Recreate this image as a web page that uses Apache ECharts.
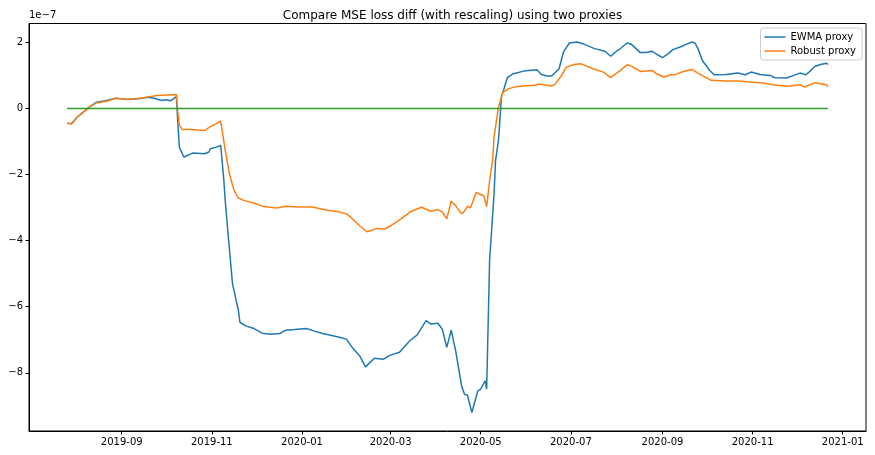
<!DOCTYPE html>
<html>
<head>
<meta charset="utf-8">
<script src="https://cdn.jsdelivr.net/npm/echarts@6/dist/echarts.min.js"></script>
<style>
html,body{margin:0;padding:0;background:#fff;}
#chart{width:875px;height:455px;}
</style>
</head>
<body>
<div id="chart"></div>
<script>
// values are in units of 1e-7
var ewmaDates = ['2019-07-26','2019-07-29','2019-08-02','2019-08-06','2019-08-11','2019-08-15','2019-08-21','2019-08-28',
    '2019-09-05','2019-09-12','2019-09-19','2019-09-23','2019-09-28','2019-10-01','2019-10-04','2019-10-08','2019-10-09',
    '2019-10-10','2019-10-13','2019-10-19','2019-10-27','2019-10-30','2019-10-31','2019-11-04','2019-11-07','2019-11-09',
    '2019-11-10','2019-11-12','2019-11-15','2019-11-19','2019-11-20','2019-11-24','2019-11-29','2019-12-05','2019-12-11',
    '2019-12-17','2019-12-21','2019-12-27','2020-01-04','2020-01-09','2020-01-15','2020-01-22','2020-01-27','2020-01-31',
    '2020-02-04','2020-02-09','2020-02-13','2020-02-19','2020-02-25','2020-02-29','2020-03-07','2020-03-14','2020-03-19',
    '2020-03-25','2020-03-28','2020-04-02','2020-04-05','2020-04-08','2020-04-11','2020-04-14','2020-04-18','2020-04-20',
    '2020-04-22','2020-04-25','2020-04-29','2020-05-01','2020-05-04','2020-05-05','2020-05-07','2020-05-10','2020-05-11',
    '2020-05-13','2020-05-15','2020-05-19','2020-05-23','2020-05-30','2020-06-08','2020-06-11','2020-06-15','2020-06-18',
    '2020-06-23','2020-06-26','2020-06-30','2020-07-05','2020-07-09','2020-07-17','2020-07-24','2020-07-28','2020-08-01',
    '2020-08-03','2020-08-08','2020-08-11','2020-08-17','2020-08-21','2020-08-25','2020-08-28','2020-09-01','2020-09-05',
    '2020-09-08','2020-09-13','2020-09-17','2020-09-21','2020-09-23','2020-09-25','2020-09-28','2020-10-03','2020-10-06',
    '2020-10-14','2020-10-22','2020-10-27','2020-10-31','2020-11-06','2020-11-13','2020-11-16','2020-11-24','2020-11-29',
    '2020-12-03','2020-12-07','2020-12-10','2020-12-13','2020-12-17','2020-12-21','2020-12-22'];
var ewmaValues = [-0.45,-0.46,-0.26,-0.11,0.07,0.19,0.23,0.31,
    0.27,0.29,0.34,0.31,0.24,0.26,0.23,0.36,-0.45,
    -1.17,-1.47,-1.35,-1.37,-1.32,-1.22,-1.17,-1.12,-2.1,
    -2.75,-3.80,-5.31,-6.12,-6.47,-6.58,-6.65,-6.80,-6.83,
    -6.81,-6.71,-6.69,-6.66,-6.73,-6.81,-6.88,-6.93,-6.98,
    -7.23,-7.48,-7.82,-7.56,-7.59,-7.48,-7.38,-7.03,-6.85,
    -6.42,-6.52,-6.50,-6.68,-7.23,-6.71,-7.33,-8.39,-8.65,
    -8.68,-9.20,-8.55,-8.49,-8.24,-8.49,-4.6,-2.59,-1.58,
    -0.97,0.34,0.93,1.05,1.13,1.17,1.03,0.98,0.98,
    1.20,1.71,1.98,2.01,1.96,1.81,1.73,1.58,1.74,
    1.79,1.98,1.94,1.69,1.69,1.73,1.64,1.54,1.66,
    1.78,1.86,1.94,2.01,1.98,1.81,1.45,1.15,1.02,
    1.03,1.07,1.02,1.10,1.03,1.00,0.93,0.92,1.00,
    1.07,1.02,1.13,1.27,1.33,1.37,1.33];

var robustDates = ['2019-07-26','2019-07-29','2019-08-02','2019-08-06','2019-08-11','2019-08-15','2019-08-21','2019-08-28',
    '2019-09-05','2019-09-12','2019-09-19','2019-09-25','2019-10-02','2019-10-08','2019-10-09','2019-10-10','2019-10-12',
    '2019-10-13','2019-10-18','2019-10-27','2019-10-31','2019-11-04','2019-11-07','2019-11-10','2019-11-13','2019-11-16',
    '2019-11-19','2019-11-23','2019-11-30','2019-12-06','2019-12-15','2019-12-21','2019-12-29','2020-01-08','2020-01-18',
    '2020-01-25','2020-01-31','2020-02-03','2020-02-09','2020-02-14','2020-02-21','2020-02-26','2020-03-01','2020-03-09',
    '2020-03-15','2020-03-22','2020-03-28','2020-04-02','2020-04-05','2020-04-08','2020-04-11','2020-04-14','2020-04-18',
    '2020-04-20','2020-04-22','2020-04-24','2020-04-28','2020-04-30','2020-05-03','2020-05-05','2020-05-07','2020-05-09',
    '2020-05-10','2020-05-13','2020-05-16','2020-05-20','2020-05-25','2020-05-31','2020-06-07','2020-06-09','2020-06-18',
    '2020-06-20','2020-06-24','2020-06-28','2020-07-03','2020-07-08','2020-07-16','2020-07-23','2020-07-28','2020-08-01',
    '2020-08-03','2020-08-08','2020-08-11','2020-08-17','2020-08-25','2020-08-28','2020-09-02','2020-09-07','2020-09-10',
    '2020-09-15','2020-09-21','2020-09-25','2020-09-30','2020-10-04','2020-10-14','2020-10-23','2020-10-30','2020-11-08',
    '2020-11-16','2020-11-25','2020-12-03','2020-12-06','2020-12-09','2020-12-13','2020-12-17','2020-12-21','2020-12-22'];
var robustValues = [-0.45,-0.46,-0.26,-0.11,0.07,0.17,0.21,0.31,
    0.28,0.30,0.35,0.39,0.41,0.42,-0.1,-0.5,-0.64,
    -0.67,-0.64,-0.67,-0.55,-0.46,-0.38,-1.25,-2.0,-2.48,
    -2.71,-2.79,-2.87,-2.97,-3.01,-2.96,-2.98,-2.98,-3.08,
    -3.12,-3.19,-3.29,-3.55,-3.73,-3.63,-3.65,-3.55,-3.31,
    -3.11,-2.99,-3.11,-3.06,-3.14,-3.34,-2.81,-2.94,-3.19,
    -3.11,-2.96,-3.01,-2.54,-2.59,-2.64,-2.97,-2.18,-1.58,
    -0.87,0.04,0.49,0.60,0.66,0.69,0.70,0.74,0.68,
    0.72,0.95,1.25,1.33,1.35,1.20,1.10,0.93,1.07,
    1.13,1.32,1.28,1.12,1.15,1.05,0.95,1.02,1.03,
    1.12,1.18,1.07,0.95,0.85,0.83,0.83,0.80,0.77,
    0.71,0.67,0.72,0.65,0.70,0.78,0.75,0.72,0.65];

var zeroDates = ['2019-07-26', '2020-12-22'];
var zeroValues = [0, 0];

var yTicks = [-8, -6, -4, -2, 0, 2];
var xTicks = ['2019-09-01','2019-11-01','2020-01-01','2020-03-01','2020-05-01','2020-07-01','2020-09-01','2020-11-01','2021-01-01'];

function toTime(s) {
    var p = s.split('-');
    return new Date(+p[0], +p[1] - 1, +p[2]).getTime();
}
function pairs(dates, values) {
    return dates.map(function (d, i) { return [toTime(d), values[i]]; });
}

// matplotlib style 5% margins
var allT = ewmaDates.concat(robustDates).map(toTime);
var tMin = Math.min.apply(null, allT), tMax = Math.max.apply(null, allT);
var allV = ewmaValues.concat(robustValues, zeroValues);
var vMin = Math.min.apply(null, allV), vMax = Math.max.apply(null, allV);
var tPad = (tMax - tMin) * 0.05, vPad = (vMax - vMin) * 0.05;

var font = 'DejaVu Sans';
var chart = echarts.init(document.getElementById('chart'));
chart.setOption({
    animation: false,
    color: ['#1f77b4', '#ff7f0e', '#2ca02c'],
    title: {
        text: 'Compare MSE loss diff (with rescaling) using two proxies',
        left: 447.5,
        top: 5,
        textAlign: 'center',
        textStyle: { fontFamily: font, fontSize: 12, fontWeight: 'normal', color: '#000' }
    },
    graphic: [{
        type: 'text',
        left: 29,
        top: 10,
        style: { text: '1e\u22127', font: '10px "DejaVu Sans"', fill: '#000' }
    }],
    legend: {
        data: ['EWMA proxy', 'Robust proxy'],
        orient: 'vertical',
        right: 13,
        top: 28,
        icon: 'rect',
        itemWidth: 21,
        itemHeight: 1.5,
        itemGap: 4,
        padding: [4, 6, 4, 4],
        borderColor: '#cccccc',
        borderWidth: 1,
        borderRadius: 3,
        backgroundColor: 'rgba(255,255,255,0.8)',
        textStyle: { fontFamily: font, fontSize: 10, color: '#000' }
    },
    grid: {
        left: 29, right: 9, top: 23.5, bottom: 24,
        show: true, borderColor: '#000', borderWidth: 1, backgroundColor: '#fff'
    },
    xAxis: {
        type: 'value',
        min: tMin - tPad,
        max: tMax + tPad,
        axisLine: { show: true, onZero: false, lineStyle: { color: '#000', width: 1 } },
        axisTick: { show: true, length: 3.5, lineStyle: { color: '#000' }, customValues: xTicks.map(toTime) },
        axisLabel: {
            customValues: xTicks.map(toTime),
            margin: 6,
            fontFamily: font, fontSize: 10, color: '#000',
            formatter: function (v) {
                var d = new Date(v);
                var m = d.getMonth() + 1;
                return d.getFullYear() + '-' + (m < 10 ? '0' + m : m);
            }
        },
        splitLine: { show: false }
    },
    yAxis: {
        type: 'value',
        min: vMin - vPad,
        max: vMax + vPad,
        axisLine: { show: true, onZero: false, lineStyle: { color: '#000', width: 1 } },
        axisTick: { show: true, length: 3.5, lineStyle: { color: '#000' }, customValues: yTicks },
        axisLabel: {
            customValues: yTicks,
            margin: 6,
            fontFamily: font, fontSize: 10, color: '#000',
            formatter: function (v) { return v < 0 ? '\u2212' + Math.abs(v) : String(v); }
        },
        splitLine: { show: false }
    },
    series: [
        {
            name: 'EWMA proxy', type: 'line', symbol: 'none',
            lineStyle: { width: 1.5, color: '#1f77b4' },
            data: pairs(ewmaDates, ewmaValues)
        },
        {
            name: 'Robust proxy', type: 'line', symbol: 'none',
            lineStyle: { width: 1.5, color: '#ff7f0e' },
            data: pairs(robustDates, robustValues)
        },
        {
            name: 'zero', type: 'line', symbol: 'none',
            lineStyle: { width: 1.5, color: '#2ca02c' },
            data: pairs(zeroDates, zeroValues)
        }
    ]
});
</script>
</body>
</html>
